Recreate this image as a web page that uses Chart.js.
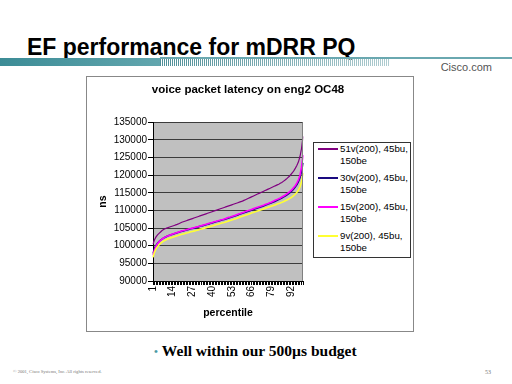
<!DOCTYPE html>
<html>
<head>
<meta charset="utf-8">
<script src="https://cdn.jsdelivr.net/npm/chart.js@4/dist/chart.umd.min.js"></script>
<style>
  html, body { margin: 0; padding: 0; background: #fff; }
  body { width: 512px; height: 384px; position: relative; overflow: hidden; font-family: Arial, "Liberation Sans", sans-serif; }
  .abs { position: absolute; }
  #title { left: 27px; top: 36px; font-size: 23px; font-weight: bold; line-height: 1; color: #000; white-space: nowrap; }
  #bar { left: 0; top: 58px; width: 160px; height: 8px; background: linear-gradient(to right, #3c8c96, #62a6ae); }
  #stripes { left: 160px; top: 58px; width: 230px; height: 8px;
    background: linear-gradient(to right, rgba(255,255,255,0), rgba(255,255,255,0.55)),
                repeating-linear-gradient(to right, #4f8f98 0 1px, transparent 1px 2px); }
  #thin { left: 160px; top: 57px; width: 352px; height: 2px; background: #6aa8b0; }
  #cisco { right: 20px; top: 62px; font-size: 11px; color: #555; line-height: 1; }
  #frame { left: 86px; top: 76px; width: 328px; height: 256px; box-sizing: border-box; border: 1px solid #888; }
  #wrap { left: 87px; top: 77px; width: 326px; height: 254px; }
  #legend { left: 313px; top: 142px; width: 98px; height: 116px; box-sizing: border-box; border: 1px solid #333; background: #fff; }
  .item { position: absolute; left: 0; width: 96px; }
  .swatch { position: absolute; left: 4px; width: 20px; height: 0; border-top: 2px solid #000; }
  .txt { position: absolute; left: 26px; font-size: 9.7px; line-height: 12px; color: #000; white-space: nowrap; }
  #bullet { left: 154px; top: 342px; font-family: "Liberation Serif", "Times New Roman", serif; font-weight: bold; font-size: 15.5px; line-height: 1.2; white-space: nowrap; }
  #bullet .dot { color: #4a9aa5; font-size: 11px; margin-right: 4px; position: relative; top: -1px; }
  #copy { left: 13px; top: 369px; font-family: "Liberation Serif", serif; font-size: 4.6px; color: #777; white-space: nowrap; }
  #page { left: 485px; top: 369px; font-family: "Liberation Serif", serif; font-size: 6px; color: #777; }
</style>
</head>
<body>
<div id="title" class="abs">EF performance for mDRR PQ</div>
<div id="bar" class="abs"></div>
<div id="stripes" class="abs"></div>
<div id="thin" class="abs"></div>
<div id="cisco" class="abs">Cisco.com</div>
<div id="frame" class="abs"></div>
<div id="wrap" class="abs"><canvas id="chart"></canvas></div>
<div id="legend" class="abs"></div>
<div id="bullet" class="abs"><span class="dot">•</span>Well within our 500µs budget</div>
<div id="copy" class="abs">© 2001, Cisco Systems, Inc. All rights reserved.</div>
<div id="page" class="abs">53</div>

<script>
// percentiles 1..100
const percentiles = Array.from({ length: 100 }, (_, i) => String(i + 1));
const shownTicks = ['1', '14', '27', '40', '53', '66', '79', '92'];

const yMin = 90000;
const yMax = 135000;
const yStep = 5000;

const seriesNames = [
    ['51v(200), 45bu,', '150be'],
    ['30v(200), 45bu,', '150be'],
    ['15v(200), 45bu,', '150be'],
    ['9v(200), 45bu,', '150be']
];
const seriesColors = ['#800080', '#1a0a80', '#ff00ff', '#ffff33'];

const v51 = [100500,101700,102500,103100,103500,103900,104300,104600,104800,105000,
    105150,105300,105450,105600,105750,105900,106050,106250,106450,106650,
    106800,106950,107100,107250,107400,107550,107700,107850,108000,108150,
    108300,108450,108600,108750,108900,109050,109200,109350,109500,109650,
    109800,109950,110100,110250,110400,110550,110700,110850,111000,111150,
    111300,111450,111600,111750,111900,112050,112200,112350,112500,112650,
    112850,113050,113250,113450,113650,113850,114050,114250,114450,114650,
    114850,115050,115250,115450,115650,115850,116050,116250,116450,116650,
    116850,117050,117250,117450,117700,117950,118250,118550,118900,119300,
    119700,120200,120700,121300,122000,122800,123800,125300,127500,131000];

const v30 = [97800,99200,100100,100700,101200,101600,101900,102200,102400,102600,
    102800,102950,103100,103250,103400,103550,103700,103800,103950,104100,
    104200,104300,104450,104550,104700,104800,104900,105000,105100,105250,
    105350,105500,105600,105700,105850,105950,106100,106200,106350,106450,
    106600,106700,106850,106950,107100,107200,107350,107450,107600,107750,
    107900,108000,108150,108300,108450,108600,108750,108900,109050,109200,
    109350,109500,109650,109800,109950,110100,110250,110400,110550,110700,
    110850,111000,111150,111300,111450,111650,111800,111950,112150,112300,
    112500,112700,112900,113100,113300,113550,113800,114050,114300,114600,
    114950,115300,115700,116150,116700,117350,118150,119300,121000,123500];

const v15 = [97300,98800,99900,100600,101100,101550,101900,102200,102450,102650,
    102850,103000,103150,103300,103450,103600,103750,103900,104050,104200,
    104300,104400,104550,104650,104800,104900,105000,105100,105250,105350,
    105450,105600,105700,105850,105950,106100,106200,106350,106450,106600,
    106700,106850,106950,107100,107200,107350,107450,107600,107750,107900,
    108050,108150,108300,108450,108600,108750,108900,109050,109200,109350,
    109500,109700,109850,110000,110150,110300,110450,110600,110750,110900,
    111050,111200,111350,111500,111700,111850,112000,112200,112350,112550,
    112750,112950,113150,113350,113550,113800,114050,114300,114600,114900,
    115250,115650,116050,116550,117100,117800,118700,120000,122200,125700];

const v9 = [96700,98200,99100,99750,100250,100650,101000,101300,101550,101750,
    101950,102100,102250,102400,102550,102700,102850,102950,103100,103250,
    103350,103450,103600,103700,103850,103950,104050,104150,104250,104400,
    104500,104650,104750,104850,105000,105100,105250,105350,105500,105600,
    105750,105850,106000,106100,106250,106350,106500,106600,106750,106900,
    107050,107150,107300,107450,107600,107750,107900,108050,108200,108350,
    108500,108650,108800,108950,109100,109250,109400,109550,109700,109850,
    110000,110150,110300,110450,110600,110750,110900,111050,111200,111350,
    111500,111650,111800,111950,112100,112300,112500,112700,112900,113100,
    113350,113600,113900,114250,114650,115150,115800,116700,118100,120600];

const seriesValues = [v51, v30, v15, v9];

const font = 'Arial, "Liberation Sans", sans-serif';

// grey plot area like the Excel original
const plotBackground = {
    id: 'plotBackground',
    beforeDraw(chart) {
        const { ctx, chartArea: a } = chart;
        ctx.save();
        ctx.fillStyle = '#c0c0c0';
        ctx.fillRect(a.left, a.top, a.width, a.height);
        ctx.restore();
    },
    afterDraw(chart) {
        const { ctx, chartArea: a } = chart;
        ctx.save();
        ctx.strokeStyle = '#808080';
        ctx.lineWidth = 1;
        ctx.beginPath();
        ctx.moveTo(a.right - 0.5, a.top);
        ctx.lineTo(a.right - 0.5, a.bottom);
        ctx.stroke();
        ctx.restore();
    }
};

const datasets = seriesValues.map((vals, i) => ({
    label: seriesNames[i].join(' '),
    data: vals,
    borderColor: seriesColors[i],
    backgroundColor: seriesColors[i],
    borderWidth: i === 0 ? 1.2 : 1.6,
    pointRadius: 0,
    tension: 0,
    order: seriesValues.length - i
}));

const chart = new Chart(document.getElementById('chart'), {
    type: 'line',
    data: { labels: percentiles, datasets: datasets },
    plugins: [plotBackground],
    options: {
        responsive: true,
        maintainAspectRatio: false,
        animation: false,
        layout: { padding: { left: 0, right: 4, top: 0, bottom: 6 } },
        plugins: {
            legend: { display: false },
            tooltip: { enabled: false },
            title: {
                display: true,
                text: 'voice packet latency on eng2 OC48',
                color: '#000',
                font: { family: font, size: 11.5, weight: 'bold' },
                padding: { top: 6, bottom: 25.5 }
            }
        },
        scales: {
            x: {
                offset: false,
                grid: { drawOnChartArea: false, drawTicks: true, tickLength: 4, color: '#000' },
                border: { color: '#000' },
                ticks: {
                    autoSkip: false,
                    minRotation: 90,
                    maxRotation: 90,
                    padding: 1,
                    color: '#000',
                    font: { family: font, size: 10 },
                    callback: function (value, index) {
                        const lab = percentiles[index];
                        return shownTicks.includes(lab) ? lab : '';
                    }
                },
                title: {
                    display: true,
                    text: 'percentile',
                    color: '#000',
                    font: { family: font, size: 10.5, weight: 'bold' },
                    padding: { top: 0, bottom: 6 }
                },
                afterFit: (s) => { s.height = 44; }
            },
            y: {
                min: yMin,
                max: yMax,
                grid: { color: '#3c3c3c', tickLength: 5, tickColor: '#000' },
                border: { color: '#000' },
                ticks: {
                    stepSize: yStep,
                    padding: 1,
                    color: '#000',
                    font: { family: font, size: 10 },
                    callback: (v) => String(v)
                },
                title: {
                    display: true,
                    text: 'ns',
                    color: '#000',
                    font: { family: font, size: 10.5, weight: 'bold' },
                    padding: { top: 10, bottom: 4 }
                },
                afterFit: (s) => { s.width = 66; }
            },
            // empty space on the right where the legend box sits
            legendSpace: {
                type: 'linear',
                position: 'right',
                display: true,
                grid: { display: false },
                border: { display: false },
                ticks: { display: false },
                afterFit: (s) => { s.width = 106; }
            }
        }
    }
});

// legend box, as in the original (two lines per entry)
const legendEl = document.getElementById('legend');
seriesNames.forEach((lines, i) => {
    const item = document.createElement('div');
    item.className = 'item';
    item.style.top = (0 + i * 29) + 'px';
    const sw = document.createElement('div');
    sw.className = 'swatch';
    sw.style.top = '5px';
    sw.style.borderTopColor = seriesColors[i];
    item.appendChild(sw);
    lines.forEach((line, j) => {
        const t = document.createElement('div');
        t.className = 'txt';
        t.style.top = j * 12 + 'px';
        t.textContent = line;
        item.appendChild(t);
    });
    legendEl.appendChild(item);
});
</script>
</body>
</html>
